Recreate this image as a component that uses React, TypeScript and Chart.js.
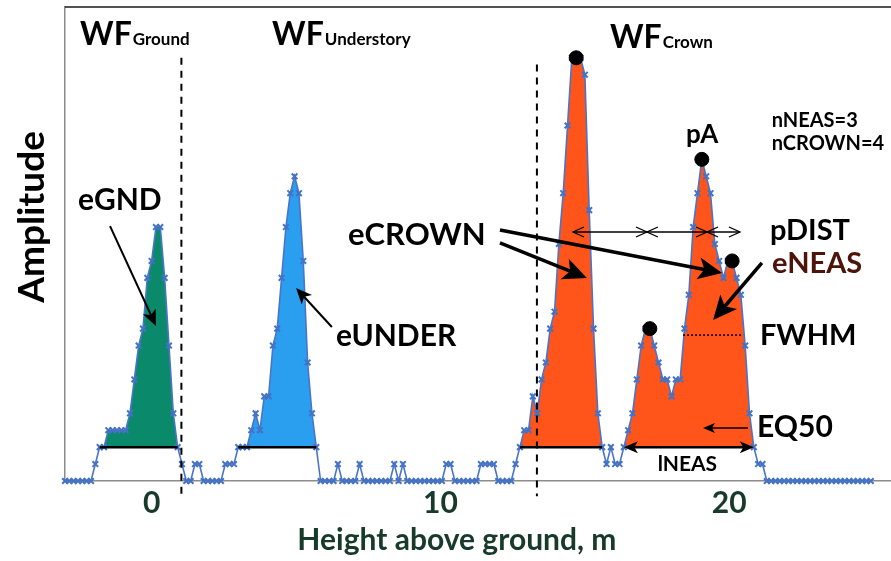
import { useEffect, useRef } from "react";
import { Chart, registerables } from "chart.js";

Chart.register(...registerables);

// Waveform samples: amplitude (counts) per 0.15 m range bin, starting at -3 m
const BIN_START_M = -3.0;
const BIN_STEP_M = 0.15;
const amplitude = [
  0, 0, 0, 0, 0, 0, 0, 1, 2, 2,
  3, 3, 3, 3, 3, 4, 6, 8, 9, 12,
  13, 15, 15, 12, 8, 4, 2, 1, 0, 0,
  1, 1, 0, 0, 0, 0, 0, 1, 1, 1,
  2, 2, 2, 3, 4, 3, 5, 5, 8, 9,
  12, 15, 17, 18, 17, 13, 7, 4, 2, 0,
  0, 0, 0, 1, 0, 0, 0, 0, 1, 0,
  0, 0, 0, 0, 0, 0, 1, 0, 1, 0,
  0, 0, 0, 0, 0, 0, 0, 0, 1, 1,
  0, 0, 0, 0, 0, 0, 1, 1, 1, 1,
  0, 0, 0, 0, 1, 2, 3, 3, 5, 4,
  6, 7, 9, 10, 14, 17, 21, 25, 25, 25,
  24, 16, 9, 4, 2, 1, 2, 1, 1, 2,
  3, 4, 6, 8, 9, 9, 8, 7, 6, 6,
  5, 6, 6, 9, 11, 15, 17, 19, 18, 17,
  14, 13, 12, 13, 13, 12, 11, 8, 4, 2,
  1, 1, 0, 0, 0, 0, 0, 0, 0, 0,
  0, 0, 0, 0, 0, 0, 0, 0, 0, 0,
  0, 0, 0, 0, 0, 0, 0,
];
const heights = amplitude.map((_, i) => Math.round((BIN_START_M + i * BIN_STEP_M) * 100) / 100);

const X_TICKS = [0, 10, 20];
const X_MIN = -3;
const X_MAX = 25.6;
const Y_MIN = 0;
const Y_MAX = 28;

// Waveform elements (first and last bin) and the EQ50 level they are cut at
const EQ50_LEVEL = 2;
const elementNames = ["eGND", "eUNDER", "eCROWN", "eNEAS"];
const elementFirstBin = [8, 40, 105, 129];
const elementLastBin = [26, 58, 124, 159];
const elementColors = ["#0a8a6b", "#2a9ff0", "#ff541a", "#ff541a"];

// Detected crown peaks (bin index)
const peakBins = [118, 135, 147, 154];

// Canopy layer boundaries, m
const layerBoundaries = [1.03, 13.34];

// pDIST arrow stops (m) and FWHM segment
const pDistStops = [14.59, 17.15, 19.23, 20.37];
const pDistLevel = 14.71;
const fwhmFrom = 18.4;
const fwhmTo = 20.48;
const fwhmLevel = 8.62;

const X_TITLE = "Height above ground, m";
const Y_TITLE = "Amplitude";

const FONT = "Lato, 'Open Sans', sans-serif";
const AXIS_GREEN = "#173a2b";

type Pt = [number, number];

function bins(first: number, last: number) {
  const out: { x: number; y: number }[] = [];
  for (let i = first; i <= last; i++) out.push({ x: heights[i], y: amplitude[i] });
  return out;
}

function arrow(
  ctx: CanvasRenderingContext2D,
  a: Pt,
  b: Pt,
  width: number,
  headLen: number,
  headHalf: number,
  both = false,
  open = false
) {
  const head = (tip: Pt, from: Pt) => {
    const ang = Math.atan2(tip[1] - from[1], tip[0] - from[0]);
    const bx = tip[0] - headLen * Math.cos(ang);
    const by = tip[1] - headLen * Math.sin(ang);
    const px = -Math.sin(ang) * headHalf;
    const py = Math.cos(ang) * headHalf;
    ctx.beginPath();
    if (open) {
      ctx.moveTo(bx + px, by + py);
      ctx.lineTo(tip[0], tip[1]);
      ctx.lineTo(bx - px, by - py);
      ctx.stroke();
    } else {
      ctx.moveTo(tip[0], tip[1]);
      ctx.lineTo(bx + px, by + py);
      ctx.lineTo(tip[0] - headLen * 0.75 * Math.cos(ang), tip[1] - headLen * 0.75 * Math.sin(ang));
      ctx.lineTo(bx - px, by - py);
      ctx.closePath();
      ctx.fill();
    }
    return [tip[0] - headLen * 0.7 * Math.cos(ang), tip[1] - headLen * 0.7 * Math.sin(ang)] as Pt;
  };
  ctx.save();
  ctx.strokeStyle = "#000";
  ctx.fillStyle = "#000";
  ctx.lineWidth = width;
  ctx.lineCap = "butt";
  const end = open ? b : head(b, a);
  const start = both ? (open ? a : head(a, b)) : a;
  if (open) {
    head(b, a);
    if (both) head(a, b);
  }
  ctx.beginPath();
  ctx.moveTo(start[0], start[1]);
  ctx.lineTo(end[0], end[1]);
  ctx.stroke();
  ctx.restore();
}

const annotations = {
  id: "waveformAnnotations",
  afterDatasetsDraw(chart: Chart) {
    const { ctx, chartArea } = chart;
    const xs = chart.scales.x;
    const ys = chart.scales.y;
    const P = (m: number, a: number): Pt => [xs.getPixelForValue(m), ys.getPixelForValue(a)];

    ctx.save();

    // top frame line
    ctx.strokeStyle = "#1a1a1a";
    ctx.lineWidth = 1.5;
    ctx.beginPath();
    ctx.moveTo(chartArea.left, chartArea.top);
    ctx.lineTo(chartArea.right, chartArea.top);
    ctx.stroke();

    // layer boundaries
    ctx.setLineDash([7, 6]);
    ctx.lineWidth = 2;
    ctx.strokeStyle = "#000";
    const tops = [25, 24.6];
    layerBoundaries.forEach((m, k) => {
      const [x, y0] = P(m, tops[k]);
      const [, y1] = P(m, -0.9);
      ctx.beginPath();
      ctx.moveTo(x, y0);
      ctx.lineTo(x, y1);
      ctx.stroke();
    });
    ctx.setLineDash([]);

    // EQ50 base lines of the elements
    elementFirstBin.forEach((f, k) => {
      const a = P(heights[f], EQ50_LEVEL);
      const b = P(heights[elementLastBin[k]], EQ50_LEVEL);
      if (k === 3) {
        arrow(ctx, a, b, 2.5, 14, 6, true);
      } else {
        ctx.lineWidth = 2.5;
        ctx.beginPath();
        ctx.moveTo(a[0], a[1]);
        ctx.lineTo(b[0], b[1]);
        ctx.stroke();
      }
    });

    // FWHM
    ctx.setLineDash([2, 2]);
    ctx.lineWidth = 1.5;
    const f0 = P(fwhmFrom, fwhmLevel);
    const f1 = P(fwhmTo, fwhmLevel);
    ctx.beginPath();
    ctx.moveTo(f0[0], f0[1]);
    ctx.lineTo(f1[0], f1[1]);
    ctx.stroke();
    ctx.setLineDash([]);

    // pDIST arrows between peaks
    for (let k = 0; k < pDistStops.length - 1; k++) {
      arrow(ctx, P(pDistStops[k], pDistLevel), P(pDistStops[k + 1], pDistLevel), 1.3, 11, 5, true, true);
    }

    // pointer arrows
    arrow(ctx, P(-1.44, 15.06), P(0.15, 9.16), 2, 16, 7);
    arrow(ctx, P(6.24, 9.1), P(5.0, 11.4), 2, 16, 7);
    arrow(ctx, P(12.06, 14.83), P(19.75, 12.29), 3.5, 24, 11);
    arrow(ctx, P(12.06, 14.06), P(15.07, 11.99), 3.5, 24, 11);
    arrow(ctx, P(21.13, 12.88), P(19.44, 9.51), 3.5, 24, 11);
    arrow(ctx, P(20.65, 3.13), P(19.09, 3.13), 1.5, 12, 5);

    // labels
    const text = (s: string, m: number, a: number, size: number, opts: { color?: string; align?: CanvasTextAlign; family?: string } = {}) => {
      const [x, y] = P(m, a);
      ctx.font = `bold ${size}px ${opts.family ?? FONT}`;
      ctx.fillStyle = opts.color ?? "#000";
      ctx.textAlign = opts.align ?? "left";
      ctx.textBaseline = "alphabetic";
      ctx.fillText(s, x, y);
      return x + ctx.measureText(s).width;
    };
    const wf = (sub: string, m: number, a: number) => {
      const x1 = text("WF", m, a, 32);
      text(sub, xs.getValueForPixel(x1 + 1) as number, a, 17);
    };
    wf("Ground", -2.48, 25.75);
    wf("Understory", 4.17, 25.75);
    wf("Crown", 15.87, 25.58);

    text("nNEAS=3", 21.47, 20.91, 20);
    text("nCROWN=4", 21.47, 19.55, 20);
    text("pA", 18.5, 19.97, 26);
    text("eGND", -2.55, 16.01, 30);
    text("eUNDER", 6.38, 7.97, 30);
    text("eCROWN", 6.8, 13.94, 31);
    text("pDIST", 21.41, 14.24, 29);
    text("eNEAS", 21.48, 12.29, 29, { color: "#4d1509" });
    text("FWHM", 21.06, 8.03, 29);
    text("EQ50", 20.96, 2.6, 30);
    text("lNEAS", 18.55, 0.59, 21, { align: "center" });

    // axis titles
    text(X_TITLE, 10.57, -4.07, 30, { color: AXIS_GREEN, align: "center" });
    ctx.save();
    ctx.translate(44, ys.getPixelForValue(15.6));
    ctx.rotate(-Math.PI / 2);
    ctx.font = `bold 37px ${FONT}`;
    ctx.fillStyle = "#000";
    ctx.textAlign = "center";
    ctx.textBaseline = "alphabetic";
    ctx.fillText(Y_TITLE, 0, 0);
    ctx.restore();

    ctx.restore();
  },
};

export default function App() {
  const canvasRef = useRef<HTMLCanvasElement | null>(null);

  useEffect(() => {
    const canvas = canvasRef.current;
    if (!canvas) return;

    const fillSets = elementFirstBin.map((f, k) => ({
      type: "line" as const,
      label: elementNames[k],
      data: bins(f, elementLastBin[k]),
      borderWidth: 0,
      pointRadius: 0,
      backgroundColor: elementColors[k],
      fill: { value: EQ50_LEVEL },
      order: 3,
    }));

    const chart = new Chart(canvas, {
      type: "line",
      data: {
        datasets: [
          ...fillSets,
          {
            label: "waveform",
            data: bins(0, amplitude.length - 1),
            borderColor: "#4a74cc",
            borderWidth: 1.6,
            pointStyle: "crossRot",
            pointRadius: 4,
            pointBorderWidth: 2,
            pointBorderColor: "#4472c4",
            fill: false,
            clip: false,
            order: 2,
          },
          {
            label: "peaks",
            data: peakBins.map((i) => ({ x: heights[i], y: amplitude[i] })),
            showLine: false,
            pointStyle: "circle",
            pointRadius: 7,
            pointBackgroundColor: "#000",
            pointBorderColor: "#000",
            clip: false,
            order: 1,
          },
        ],
      },
      options: {
        animation: false,
        responsive: false,
        layout: { autoPadding: false, padding: { top: 7, left: 0, right: 0, bottom: 0 } },
        plugins: { legend: { display: false }, tooltip: { enabled: false } },
        scales: {
          x: {
            type: "linear",
            min: X_MIN,
            max: X_MAX,
            afterBuildTicks: (s) => {
              s.ticks = X_TICKS.map((v) => ({ value: v }));
            },
            afterFit: (s) => {
              s.height = 80;
              s.paddingLeft = 0;
              s.paddingRight = 0;
            },
            grid: { display: false, drawTicks: false },
            border: { display: true, color: "#8c8c8c", width: 1.5 },
            ticks: {
              autoSkip: false,
              maxRotation: 0,
              padding: 4,
              color: AXIS_GREEN,
              font: { family: FONT, weight: "bold", size: 30 },
            },
          },
          y: {
            min: Y_MIN,
            max: Y_MAX,
            afterFit: (s) => {
              s.width = 65;
            },
            grid: { display: false, drawTicks: false },
            border: { display: true, color: "#8c8c8c", width: 1.5 },
            ticks: { display: false },
          },
        },
      },
      plugins: [annotations],
    });

    return () => chart.destroy();
  }, []);

  return (
    <div style={{ position: "fixed", left: 0, top: 0, width: 891, height: 561, background: "#fff" }}>
      <canvas ref={canvasRef} width={891} height={561} style={{ display: "block" }} />
    </div>
  );
}
